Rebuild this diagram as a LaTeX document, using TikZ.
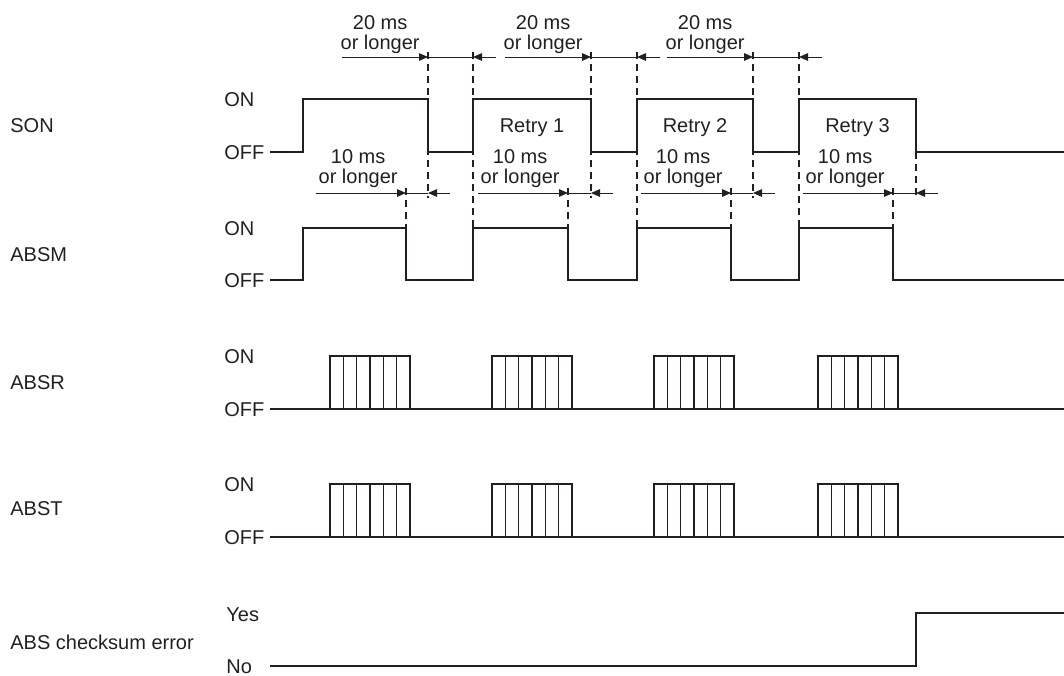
\documentclass[tikz,border=0pt]{standalone}
\usepackage{fontspec}
\setmainfont{Liberation Sans}
\usetikzlibrary{arrows.meta,calc}
\definecolor{ink}{HTML}{231F20}
\tikzset{wave/.style={draw=ink, line width=0.9pt, line join=miter},
  cell/.style={draw=ink, line width=0.8pt},
  guide/.style={draw=ink, line width=0.6pt, dash pattern=on 3.5pt off 2.5pt},
  tip/.style={draw=ink, line width=0.5pt, -{Triangle[length=4.5pt,width=3.8pt]}},
  dim/.style={draw=ink, line width=0.5pt},
  sig/.style={anchor=base west, inner sep=0pt, text=ink},
  note/.style={align=center, inner sep=0pt, text=ink, anchor=south east}}

\begin{document}
\begin{tikzpicture}[x=0.5pt, y=-0.5pt, font=\fontsize{10pt}{10pt}\selectfont]
  \useasboundingbox (0,0) rectangle (1064,675);
  % rising edge, SON falling edge, ABSM falling edge of each try
  \foreach \i/\r/\f/\m in {1/303/428/406, 2/473/591/568, 3/637/753/731, 4/799/916/893} {
    \coordinate (r\i) at (\r,0);
    \coordinate (f\i) at (\f,0);
    \coordinate (m\i) at (\m,0);
  }
  % dashed guides
  \foreach \i in {1,2,3}
    \draw[guide] ($(f\i)+(0,52)$) -- ($(f\i)+(0,198)$);
  \draw[guide] ($(f4)+(0,152)$) -- ($(f4)+(0,198)$);
  \foreach \i in {2,3,4}
    \draw[guide] ($(r\i)+(0,52)$) -- ($(r\i)+(0,228)$);
  \foreach \i in {1,2,3,4}
    \draw[guide] ($(m\i)+(0,188)$) -- ($(m\i)+(0,228)$);

  % signal names
  \node[sig] (son) at (10,132) {SON};
  \node[sig] (absm) at (10,261) {ABSM};
  \node[sig] (absr) at (10,389) {ABSR};
  \node[sig] (abst) at (10,515) {ABST};
  \node[sig] (chk) at (10,649) {ABS checksum error};
  % levels
  \node[sig] (son-on) at (224,106) {ON};
  \node[sig] (son-off) at (224,159) {OFF};
  \node[sig] (absm-on) at (224,235) {ON};
  \node[sig] (absm-off) at (224,287) {OFF};
  \node[sig] (absr-on) at (224,363) {ON};
  \node[sig] (absr-off) at (224,416) {OFF};
  \node[sig] (abst-on) at (224,491) {ON};
  \node[sig] (abst-off) at (224,544) {OFF};
  \node[sig] (chk-yes) at (226,621) {Yes};
  \node[sig] (chk-no) at (226,673) {No};

  % SON
  \draw[wave] (270,152) -| ($(r1)+(0,99)$) -| ($(f1)+(0,152)$) -| ($(r2)+(0,99)$) -| ($(f2)+(0,152)$)
    -| ($(r3)+(0,99)$) -| ($(f3)+(0,152)$) -| ($(r4)+(0,99)$) -| ($(f4)+(0,152)$) -- (1064,152);
  % ABSM
  \draw[wave] (270,280) -| ($(r1)+(0,228)$) -| ($(m1)+(0,280)$) -| ($(r2)+(0,228)$) -| ($(m2)+(0,280)$)
    -| ($(r3)+(0,228)$) -| ($(m3)+(0,280)$) -| ($(r4)+(0,228)$) -| ($(m4)+(0,280)$) -- (1064,280);
  % ABSR and ABST
  \draw[wave] (270,409) -- (1064,409);
  \draw[wave] (270,537) -- (1064,537);
  \foreach \x in {330,492,654,818} {
    \draw[wave] (\x,409) -- (\x,356) -- (\x+80,356) -- (\x+80,409);
    \draw[wave] (\x,537) -- (\x,484) -- (\x+80,484) -- (\x+80,537);
    \foreach \k in {1,...,5} {
      \draw[cell] (\x+\k*80/6,356) -- (\x+\k*80/6,409);
      \draw[cell] (\x+\k*80/6,484) -- (\x+\k*80/6,537);
    }
  }
  % ABS checksum error
  \draw[wave] (270,666) -| ($(f4)+(0,613)$) -- (1064,613);

  % retries
  \node[sig, anchor=base] (retry1) at ($(r2)!.5!(f2)+(0,132)$) {Retry 1};
  \node[sig, anchor=base] (retry2) at ($(r3)!.5!(f3)+(0,132)$) {Retry 2};
  \node[sig, anchor=base] (retry3) at ($(r4)!.5!(f4)+(0,132)$) {Retry 3};

  % 20 ms between SON off and next SON on
  \foreach \i/\j in {1/2, 2/3, 3/4} {
    \node[note] (off\i) at ($(f\i)+(-8,54)$) {20 ms\\or longer};
    \draw[tip] ($(f\i)+(-86,57)$) -- ($(f\i)+(0,57)$);
    \draw[dim] ($(f\i)+(0,57)$) -- ($(r\j)+(0,57)$);
    \draw[tip] ($(r\j)+(23,57)$) -- ($(r\j)+(0,57)$);
  }
  % 10 ms between ABSM off and SON off
  \foreach \i in {1,2,3,4} {
    \node[note] (lag\i) at ($(m\i)+(-8,188)$) {10 ms\\or longer};
    \draw[tip] ($(m\i)+(-90,193)$) -- ($(m\i)+(0,193)$);
    \draw[dim] ($(m\i)+(0,193)$) -- ($(f\i)+(0,193)$);
    \draw[tip] ($(f\i)+(22,193)$) -- ($(f\i)+(0,193)$);
  }
\end{tikzpicture}
\end{document}
